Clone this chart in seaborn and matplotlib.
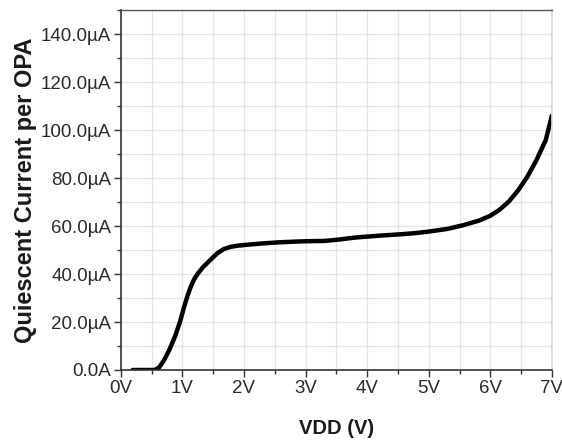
import matplotlib
matplotlib.use("Agg")
import matplotlib.pyplot as plt
from matplotlib.ticker import MultipleLocator, FixedLocator
import seaborn as sns
import pandas as pd

# ── Data ─────────────────────────────────────────────────────────────────────
vdd = [0.19, 0.40, 0.55, 0.62, 0.70, 0.79, 0.88, 0.96, 1.03, 1.09, 1.14, 1.19,
       1.25, 1.34, 1.45, 1.56, 1.67, 1.78, 1.89, 2.05, 2.27, 2.55, 2.81, 3.05,
       3.31, 3.55, 3.80, 4.20, 4.56, 4.80, 5.00, 5.30, 5.55, 5.82, 6.00, 6.15,
       6.30, 6.45, 6.60, 6.75, 6.90, 7.00]
current_ua = [0.0, 0.0, 0.0, 1.0, 4.0, 8.5, 14.0, 20.0, 26.5, 31.5, 35.0, 37.8,
              40.2, 43.0, 45.8, 48.5, 50.4, 51.3, 51.8, 52.2, 52.7, 53.2, 53.5, 53.7,
              53.8, 54.4, 55.2, 56.0, 56.6, 57.1, 57.7, 58.8, 60.3, 62.3, 64.3, 66.8,
              70.2, 74.8, 80.5, 87.5, 95.8, 106.0]
y_ticks = [0, 20, 40, 60, 80, 100, 120, 140]
y_labels = ["0.0A", "20.0µA", "40.0µA", "60.0µA", "80.0µA", "100.0µA", "120.0µA", "140.0µA"]
x_ticks = [0, 1, 2, 3, 4, 5, 6, 7]
x_labels = ["0V", "1V", "2V", "3V", "4V", "5V", "6V", "7V"]

df = pd.DataFrame({"vdd": vdd, "current": current_ua})

sns.set_theme(style="white")
plt.rcParams["font.family"] = ["Liberation Sans", "DejaVu Sans"]

fig, ax = plt.subplots(figsize=(5.62, 4.41), dpi=100)
fig.subplots_adjust(left=0.215, right=0.982, top=0.977, bottom=0.161)

sns.lineplot(data=df, x="vdd", y="current", color="black", linewidth=3.2, ax=ax)

ax.set_xlim(0, 7)
ax.set_ylim(0, 150)
ax.xaxis.set_major_locator(FixedLocator(x_ticks))
ax.set_xticklabels(x_labels)
ax.yaxis.set_major_locator(FixedLocator(y_ticks))
ax.set_yticklabels(y_labels)
ax.xaxis.set_minor_locator(MultipleLocator(0.5))
ax.yaxis.set_minor_locator(MultipleLocator(10))

ax.grid(which="both", color="#e4e4e4", linewidth=0.9)
ax.set_axisbelow(True)

for side in ("left", "bottom"):
    ax.spines[side].set_color("#333333")
    ax.spines[side].set_linewidth(1.2)
ax.spines["top"].set_color("#555555")
ax.spines["top"].set_linewidth(1.0)
ax.spines["right"].set_color("#d8d8d8")

ax.tick_params(which="major", direction="out", length=5, width=1.0, color="#333333",
               labelsize=13.5, labelcolor="#2a2a2a", left=True, bottom=True, pad=2)
ax.tick_params(which="minor", direction="out", length=3, width=1.0, color="#333333",
               left=True, bottom=True)

ax.set_xlabel("VDD (V)", fontsize=14.5, fontweight="bold", color="#1a1a1a", labelpad=16)
ax.set_ylabel("Quiescent Current per OPA", fontsize=17, fontweight="bold",
              color="#1a1a1a", labelpad=3)

fig.savefig("out.png", dpi=100)
